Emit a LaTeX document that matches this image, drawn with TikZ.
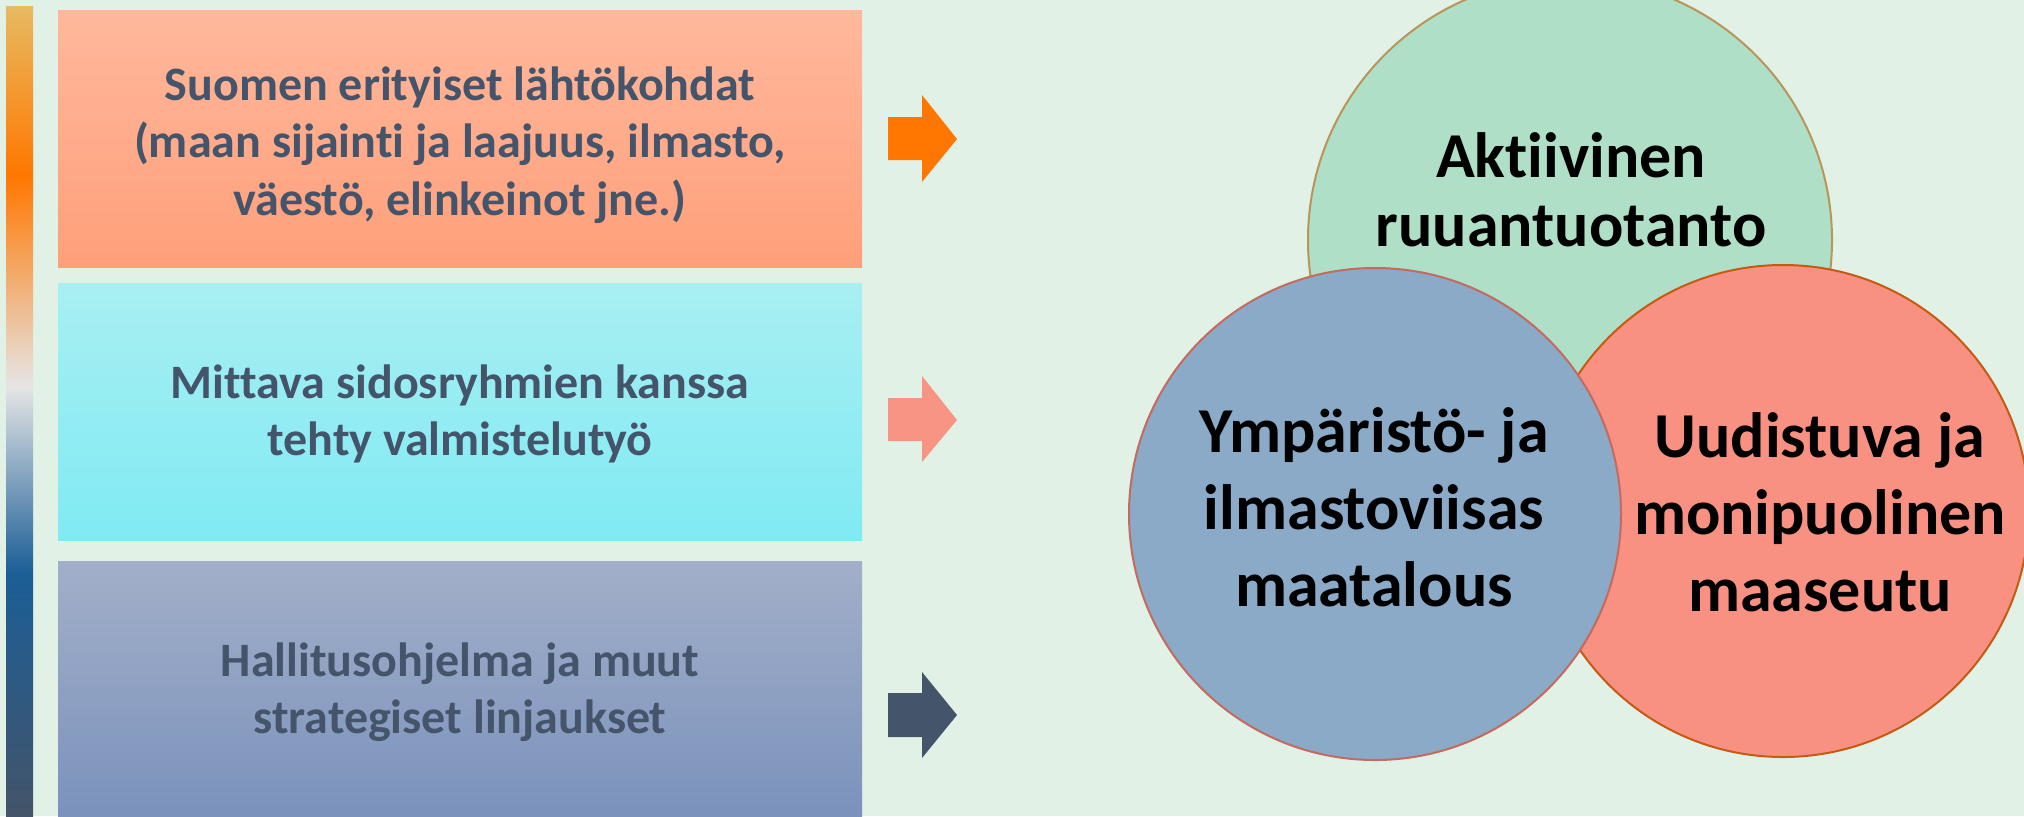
\documentclass[tikz,border=0pt]{standalone}
\usepackage{fontspec}
\setmainfont{Carlito}[Ligatures={NoCommon}]
\definecolor{bg}{HTML}{E1F1E6}
\definecolor{barT}{HTML}{E8BA62}
\definecolor{barO}{HTML}{FF7700}
\definecolor{barG}{HTML}{E5E5E5}
\definecolor{barB}{HTML}{1B5E96}
\definecolor{barD}{HTML}{44546A}
\definecolor{txt}{HTML}{44546A}
\definecolor{boxAt}{HTML}{FFB89C}
\definecolor{boxAb}{HTML}{FF9F7A}
\definecolor{boxBt}{HTML}{A8EFF2}
\definecolor{boxBb}{HTML}{80EAF3}
\definecolor{boxCt}{HTML}{A3AFC9}
\definecolor{boxCb}{HTML}{7A92BC}
\definecolor{arrO}{HTML}{FF7700}
\definecolor{arrS}{HTML}{F89484}
\definecolor{arrD}{HTML}{44546A}
\definecolor{cG}{HTML}{B0DFC8}
\definecolor{cGl}{HTML}{B8955A}
\definecolor{cB}{HTML}{8AAAC8}
\definecolor{cBl}{HTML}{C46A5E}
\definecolor{cR}{HTML}{F89182}
\definecolor{cRl}{HTML}{C55A11}
\pgfdeclareverticalshading{barshade}{100bp}{color(0bp)=(barD); color(25bp)=(barD); color(40bp)=(barB); color(51.5bp)=(barG); color(64.5bp)=(barO); color(75bp)=(barT); color(100bp)=(barT)}
\tikzset{
  boxnode/.style={rectangle, inner sep=0pt, minimum width=402pt, minimum height=128.5pt},
  boxtext/.style={align=center, text=txt, inner sep=0pt, font=\fontsize{24}{28.75}\selectfont\bfseries},
  venn/.style={circle, inner sep=0pt, line width=1pt},
  venntext/.style={align=center, text=black, font=\fontsize{32}{38.5}\selectfont\bfseries},
  venntextg/.style={align=center, text=black, font=\fontsize{32}{34.5}\selectfont\bfseries}
}
\begin{document}
\begin{tikzpicture}[x=0.5pt,y=-0.5pt]
\useasboundingbox (0,0) rectangle (2024,816);
\fill[bg] (0,0) rectangle (2024,816);
\clip (0,0) rectangle (2024,816);
% gradient bar
\shade[shading=barshade] (6,6) rectangle (33,816);
% boxes
\node[boxnode, top color=boxAt, bottom color=boxAb] (b1) at (460,138.5) {};
\node[boxnode, top color=boxBt, bottom color=boxBb] (b2) at (460,411.5) {};
\node[boxnode, top color=boxCt, bottom color=boxCb] (b3) at (460,689.5) {};
\node[boxtext] (t1) at (460,145)
  {Suomen erityiset lähtökohdat\\(maan sijainti ja laajuus, ilmasto,\\väestö, elinkeinot jne.)};
\node[boxtext] (t2) at (460,414)
  {Mittava sidosryhmien kanssa\\tehty valmistelutyö};
\node[boxtext] (t3) at (460,692)
  {Hallitusohjelma ja muut\\strategiset linjaukset};
% arrows
\fill[arrO] (888,117) -- (922,117) -- (922,95) -- (957,139) -- (922,182) -- (922,160) -- (888,160) -- cycle;
\fill[arrS] (888,398) -- (922,398) -- (922,376) -- (957,420) -- (922,462) -- (922,441) -- (888,441) -- cycle;
\fill[arrD] (888,693) -- (922,693) -- (922,672) -- (957,715) -- (922,758) -- (922,737) -- (888,737) -- cycle;
% circles
\node[venn, fill=cG, draw=cGl, minimum size=262pt] (cg) at (1570,240) {};
\node[venn, fill=cR, draw=cRl, minimum size=246pt] (cr) at (1783,511) {};
\node[venn, fill=cB, draw=cBl, minimum size=246pt] (cb) at (1375,514) {};
% circle texts
\node[venntextg] (tg) at (1571,190) {Aktiivinen\\ruuantuotanto};
\node[venntext] (tb) at (1374,507) {Ympäristö- ja\\ilmastoviisas\\maatalous};
\node[venntext] (tr) at (1820,512) {Uudistuva ja\\monipuolinen\\maaseutu};
\end{tikzpicture}
\end{document}
